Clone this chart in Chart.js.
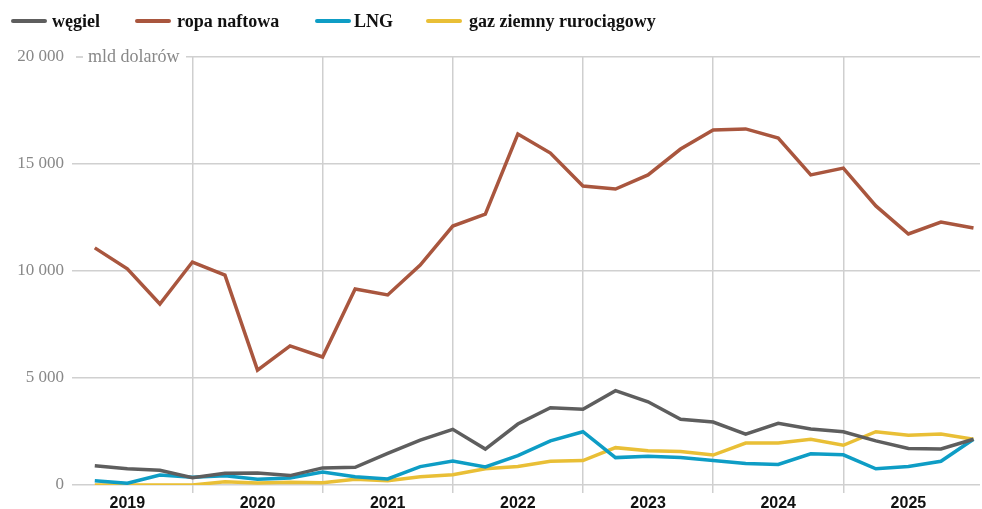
<!DOCTYPE html>
<html lang="pl">
<head>
<meta charset="utf-8">
<script src="https://cdn.jsdelivr.net/npm/chart.js@4.4.1/dist/chart.umd.min.js"></script>
<style>
  html, body { margin: 0; padding: 0; background: #fff; }
  #wrap { position: relative; width: 982px; height: 509px; }
  #legend { position: absolute; left: 0; top: 0; width: 982px; height: 40px;
    font-family: "Liberation Serif", serif; font-weight: bold; font-size: 18px; color: #111; }
  .item { position: absolute; top: 10px; height: 22px; white-space: nowrap; }
  .swatch { position: absolute; left: 0; top: 9px; width: 36px; height: 4px; border-radius: 2px; }
  .name { position: absolute; top: 0; line-height: 22px; }
</style>
</head>
<body>
<div id="wrap">
  <canvas id="chart" width="982" height="509"></canvas>
  <div id="legend"></div>
</div>
<script>
// lata i kwartały
const years = ['2019', '2020', '2021', '2022', '2023', '2024', '2025'];
const quarters = years.flatMap(y => ['I', 'II', 'III', 'IV'].map(q => q + ' ' + y));

// mld dolarów
const wegiel = [900, 760, 690, 340, 545, 560, 440, 800, 830, 1480, 2100, 2600,
  1680, 2850, 3610, 3540, 4410, 3890, 3070, 2940, 2380, 2880, 2620, 2490,
  2060, 1710, 1680, 2140];
const ropa = [11080, 10100, 8460, 10420, 9810, 5370, 6500, 5980, 9160, 8880, 10280, 12100,
  12660, 16400, 15510, 13970, 13830, 14490, 15700, 16590, 16640, 16215, 14490, 14810,
  13040, 11730, 12290, 12010];
const lng = [200, 80, 470, 360, 435, 265, 330, 610, 390, 280, 860, 1120,
  840, 1370, 2060, 2490, 1280, 1340, 1290, 1150, 1010, 960, 1460, 1410,
  760, 860, 1110, 2140];
const gaz = [0, 0, 0, 0, 155, 95, 125, 110, 265, 200, 390, 480,
  760, 860, 1110, 1140, 1745, 1600, 1570, 1400, 1960, 1960, 2135, 1855,
  2490, 2320, 2380, 2140];

const seriesNames = ['węgiel', 'ropa naftowa', 'LNG', 'gaz ziemny rurociągowy'];
const seriesColors = ['#5e5e5e', '#a9563e', '#0e9dc5', '#e9bf36'];
const seriesData = [wegiel, ropa, lng, gaz];

// legenda w HTML
const legendX = [[11, 52], [135, 177], [315, 354], [426, 469]];
const legend = document.getElementById('legend');
seriesNames.forEach((name, i) => {
  const el = document.createElement('div');
  el.className = 'item';
  el.style.left = legendX[i][0] + 'px';
  el.innerHTML = '<span class="swatch" style="background:' + seriesColors[i] + '"></span>'
    + '<span class="name" style="left:' + (legendX[i][1] - legendX[i][0]) + 'px">' + name + '</span>';
  legend.appendChild(el);
});

function fmt(v) {
  return String(v).replace(/\B(?=(\d{3})+(?!\d))/g, ' ');
}

// podpis jednostki przy linii 20 000
const unitLabel = {
  id: 'unitLabel',
  beforeDatasetsDraw(chart) {
    const ctx = chart.ctx;
    const left = chart.chartArea.left;
    const y = chart.scales.y.getPixelForValue(20000);
    ctx.save();
    ctx.fillStyle = '#fff';
    ctx.fillRect(left - 2, y - 8, 116, 16);
    ctx.strokeStyle = '#c8c8c8';
    ctx.lineWidth = 1.5;
    ctx.beginPath();
    ctx.moveTo(left + 4, y);
    ctx.lineTo(left + 11, y);
    ctx.stroke();
    ctx.fillStyle = '#888';
    ctx.font = '18px "Liberation Serif"';
    ctx.textBaseline = 'middle';
    ctx.fillText('mld dolarów', left + 16, y);
    ctx.restore();
  }
};

const chart = new Chart(document.getElementById('chart'), {
  type: 'line',
  data: {
    labels: quarters,
    datasets: seriesNames.map((name, i) => ({
      label: name,
      data: seriesData[i].map((v, j) => ({ x: j, y: v })),
      borderColor: seriesColors[i],
      backgroundColor: seriesColors[i],
      borderWidth: 3.5,
      pointRadius: 0,
      tension: 0,
      borderJoinStyle: 'miter'
    }))
  },
  options: {
    responsive: false,
    animation: false,
    layout: { padding: { top: 57, right: 2, left: 0, bottom: 0 } },
    plugins: {
      legend: { display: false },
      tooltip: { enabled: false }
    },
    scales: {
      x: {
        type: 'linear',
        min: -0.7,
        max: 27.2,
        afterBuildTicks: axis => { axis.ticks = quarters.map((q, i) => ({ value: i })); },
        afterFit: axis => { axis.height = 24; },
        border: { display: false },
        grid: {
          color: c => (c.tick && c.tick.value % 4 === 3 && c.tick.value < quarters.length - 1) ? '#cfcfcf' : 'rgba(0,0,0,0)',
          lineWidth: 1.5,
          tickLength: 8
        },
        ticks: {
          autoSkip: false,
          maxRotation: 0,
          padding: 1,
          color: '#111',
          font: { family: 'Liberation Sans', weight: 'bold', size: 16 },
          callback: v => (v % 4 === 1) ? years[Math.floor(v / 4)] : ''
        }
      },
      y: {
        min: 0,
        max: 20000,
        afterFit: axis => { axis.width = 72; },
        border: { display: false },
        grid: { color: '#d0d0d0', lineWidth: 1.5, drawTicks: false },
        ticks: {
          stepSize: 5000,
          padding: 8,
          color: '#888',
          font: { family: 'Liberation Serif', size: 17 },
          callback: v => fmt(v)
        }
      }
    }
  },
  plugins: [unitLabel]
});
</script>
</body>
</html>
